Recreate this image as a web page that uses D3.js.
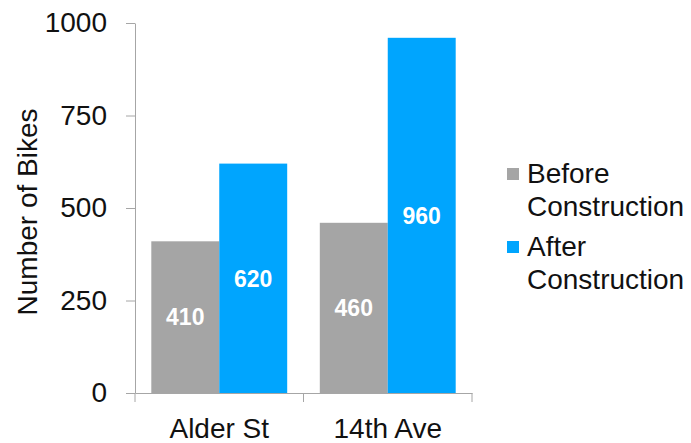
<!DOCTYPE html>
<html>
<head>
<meta charset="utf-8">
<script src="https://cdn.jsdelivr.net/npm/d3@7"></script>
<style>
  html, body { margin: 0; padding: 0; background: #fff; }
  svg { display: block; font-family: "Liberation Sans", Arial, sans-serif; }
</style>
</head>
<body>
<svg id="chart" width="691" height="443"></svg>
<script>
// Bike counts on two streets, before and after construction
const streets = ["Alder St", "14th Ave"];
const seriesNames = ["Before Construction", "After Construction"];
const beforeCounts = [410, 460];
const afterCounts = [620, 960];
const yTicks = [0, 250, 500, 750, 1000];
const seriesColors = ["#a5a5a5", "#00a5fe"];

const FONT = "'Liberation Sans', Arial, sans-serif";
const svg = d3.select("#chart");
const x0 = 135, x1 = 472, yTop = 23, yBottom = 393;

const y = d3.scaleLinear().domain([0, 1000]).range([yBottom, yTop]);
const xGroup = d3.scaleBand().domain(streets).range([x0, x1]).padding(0);
const xSeries = d3.scaleBand().domain(seriesNames)
  .range([0, xGroup.bandwidth()]).paddingInner(0).paddingOuter(0.24);
const color = d3.scaleOrdinal().domain(seriesNames).range(seriesColors);

const rows = streets.map((s, i) => ({
  street: s,
  values: [
    { name: seriesNames[0], value: beforeCounts[i] },
    { name: seriesNames[1], value: afterCounts[i] }
  ]
}));

// Bars
const groups = svg.append("g").selectAll("g").data(rows).join("g")
  .attr("transform", d => `translate(${xGroup(d.street)},0)`);

groups.selectAll("rect").data(d => d.values).join("rect")
  .attr("x", d => xSeries(d.name))
  .attr("width", xSeries.bandwidth())
  .attr("y", d => y(d.value))
  .attr("height", d => y(0) - y(d.value))
  .attr("fill", d => color(d.name));

// Value labels centred inside each bar
groups.selectAll("text.val").data(d => d.values).join("text")
  .attr("class", "val")
  .attr("x", d => xSeries(d.name) + xSeries.bandwidth() / 2)
  .attr("y", d => (y(d.value) + y(0)) / 2)
  .attr("dy", "0.36em")
  .attr("text-anchor", "middle")
  .attr("fill", "#fff")
  .attr("font-weight", "bold")
  .attr("font-size", 23)
  .text(d => d.value);

// Y axis
const yAxis = svg.append("g")
  .attr("transform", `translate(${x0},0)`)
  .call(d3.axisLeft(y).tickValues(yTicks).tickFormat(d3.format("d"))
    .tickSize(9).tickPadding(19).tickSizeOuter(0));
yAxis.select(".domain").attr("stroke", "#a6a6a6");
yAxis.selectAll(".tick line").attr("stroke", "#a6a6a6");
yAxis.selectAll(".tick text").attr("font-size", 28).attr("fill", "#111")
  .attr("font-family", FONT);

// X axis
const xAxis = svg.append("g")
  .attr("transform", `translate(0,${yBottom})`)
  .call(d3.axisBottom(xGroup).tickSize(0).tickPadding(25).tickSizeOuter(0));
xAxis.select(".domain").attr("stroke", "#a6a6a6");
xAxis.selectAll(".tick text").attr("font-size", 28).attr("fill", "#111")
  .attr("font-family", FONT);
// category boundary ticks
const bounds = [x0].concat(streets.map(s => xGroup(s) + xGroup.bandwidth()));
xAxis.selectAll("line.bound").data(bounds).join("line")
  .attr("class", "bound")
  .attr("x1", d => d).attr("x2", d => d)
  .attr("y1", 0).attr("y2", 9)
  .attr("stroke", "#a6a6a6");

// Axis title
svg.append("text")
  .attr("transform", `translate(37,212) rotate(-90)`)
  .attr("text-anchor", "middle")
  .attr("font-size", 28)
  .attr("fill", "#111")
  .text("Number of Bikes");

// Legend
const legendItems = [
  { name: seriesNames[0], lines: ["Before", "Construction"], top: 183 },
  { name: seriesNames[1], lines: ["After", "Construction"], top: 256 }
];
const legend = svg.append("g");
legendItems.forEach(item => {
  legend.append("rect")
    .attr("x", 507).attr("y", item.top - 15)
    .attr("width", 12).attr("height", 12)
    .attr("fill", color(item.name));
  const t = legend.append("text")
    .attr("x", 527).attr("y", item.top)
    .attr("font-size", 28).attr("fill", "#111");
  item.lines.forEach((ln, i) => {
    t.append("tspan").attr("x", 527).attr("dy", i === 0 ? 0 : 33).text(ln);
  });
});
</script>
</body>
</html>
